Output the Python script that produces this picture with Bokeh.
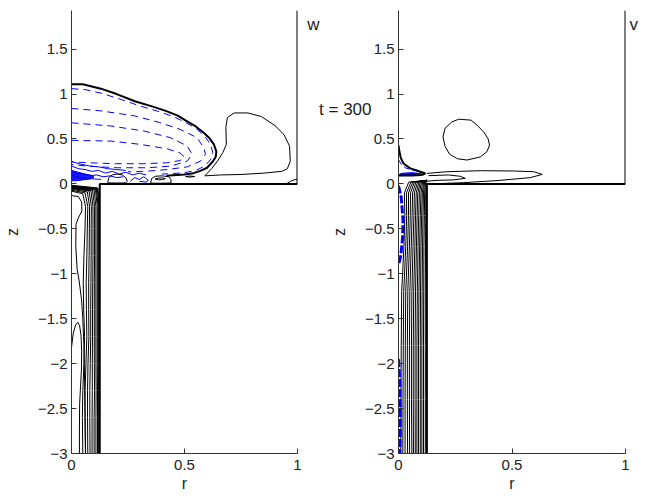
from bokeh.plotting import figure
from bokeh.layouts import row
from bokeh.models import FixedTicker, LinearAxis
from bokeh.embed import file_html
from bokeh.resources import INLINE

FONT = "Liberation Sans"

# ---------------- axes / ticks ----------------
z_ticks = [-3, -2.5, -2, -1.5, -1, -0.5, 0, 0.5, 1, 1.5]
z_tick_labels = ["\u22123", "\u22122.5", "\u22122", "\u22121.5", "\u22121", "\u22120.5", "0", "0.5", "1", "1.5"]
r_ticks = [0, 0.5, 1]
r_tick_labels = ["0", "0.5", "1"]
Z_MIN, Z_MAX = -3.0, 1.93
R_MIN, R_MAX = 0.0, 1.0

# panel titles and time stamp (text, z position)
title_w = ("w", 1.77)
title_v = ("v", 1.77)
time_text = ("t = 300", 0.83)

# domain boundary (pipe wall, floor, outer wall)
wall_r = [0.125, 0.125, 1.0, 1.0]
wall_z = [-3.0, 0.0, 0.0, 1.93]

# ---------------- panel w ----------------
w_zero_r = [0.0, 0.05, 0.13, 0.20, 0.28, 0.36, 0.42, 0.47, 0.51, 0.55, 0.585, 0.61, 0.63, 0.641, 0.638, 0.625, 0.60, 0.57, 0.54, 0.50, 0.45, 0.42]
w_zero_z = [1.11, 1.11, 1.06, 1.00, 0.92, 0.86, 0.81, 0.76, 0.70, 0.64, 0.57, 0.51, 0.44, 0.36, 0.30, 0.25, 0.18, 0.145, 0.12, 0.105, 0.097, 0.09]

w_pos_r = [0.59, 0.62, 0.645, 0.67, 0.685, 0.683, 0.69, 0.72, 0.78, 0.84, 0.90, 0.94, 0.965, 0.968, 0.955, 0.93, 0.85, 0.75, 0.66, 0.59]
w_pos_z = [0.09, 0.17, 0.25, 0.35, 0.44, 0.63, 0.74, 0.79, 0.79, 0.75, 0.65, 0.55, 0.42, 0.25, 0.17, 0.14, 0.12, 0.105, 0.10, 0.09]

w_neg_r = [
    [0.0, 0.06, 0.13, 0.22, 0.30, 0.38, 0.45, 0.50, 0.55, 0.59, 0.615, 0.625, 0.615, 0.59, 0.55, 0.50, 0.45, 0.40],
    [0.0, 0.13, 0.28, 0.39, 0.48, 0.556, 0.585, 0.593, 0.571, 0.512, 0.424, 0.335, 0.25],
    [0.0, 0.173, 0.32, 0.438, 0.512, 0.534, 0.512, 0.438, 0.335, 0.203, 0.07, 0.0],
    [0.0, 0.173, 0.306, 0.424, 0.48, 0.50, 0.48, 0.42, 0.32, 0.20, 0.08, 0.0],
]
w_neg_z = [
    [1.06, 1.05, 1.01, 0.94, 0.87, 0.81, 0.75, 0.69, 0.62, 0.53, 0.44, 0.35, 0.27, 0.20, 0.15, 0.125, 0.115, 0.11],
    [0.84, 0.813, 0.757, 0.683, 0.608, 0.515, 0.403, 0.329, 0.254, 0.19, 0.16, 0.142, 0.135],
    [0.68, 0.645, 0.589, 0.515, 0.422, 0.329, 0.254, 0.198, 0.18, 0.18, 0.198, 0.217],
    [0.485, 0.477, 0.44, 0.39, 0.345, 0.30, 0.26, 0.235, 0.225, 0.225, 0.235, 0.245],
]

# tangled small negative contours near the floor
w_tangle_r = [
    [0.0, 0.03, 0.06, 0.09, 0.12, 0.15, 0.18, 0.21, 0.24, 0.27, 0.30, 0.33],
    [0.0, 0.02, 0.05, 0.08, 0.11, 0.14, 0.17, 0.20, 0.23],
    [0.0, 0.02, 0.04, 0.07, 0.10, 0.13],
    [0.26, 0.28, 0.30, 0.32, 0.34, 0.33, 0.30],
    [0.0, 0.04, 0.08, 0.12, 0.16, 0.20, 0.24],
]
w_tangle_z = [
    [0.20, 0.17, 0.16, 0.14, 0.15, 0.12, 0.14, 0.11, 0.13, 0.10, 0.12, 0.10],
    [0.15, 0.12, 0.11, 0.09, 0.10, 0.08, 0.09, 0.07, 0.08],
    [0.10, 0.08, 0.07, 0.06, 0.055, 0.05],
    [0.03, 0.07, 0.05, 0.08, 0.04, 0.02, 0.03],
    [0.25, 0.22, 0.20, 0.19, 0.17, 0.16, 0.15],
]
w_blob_r = [0.0, 0.02, 0.05, 0.08, 0.10, 0.09, 0.06, 0.03, 0.0]
w_blob_z = [0.035, 0.035, 0.045, 0.055, 0.075, 0.095, 0.11, 0.13, 0.15]

# small closed contours on the floor
w_bump_r = [
    [0.16, 0.165, 0.18, 0.20, 0.225, 0.24, 0.247, 0.24, 0.20, 0.165, 0.16],
    [0.35, 0.355, 0.37, 0.40, 0.43, 0.44, 0.44, 0.40, 0.355, 0.35],
    [0.37, 0.385, 0.40, 0.415, 0.40, 0.385, 0.37],
    [0.505, 0.525, 0.545, 0.525, 0.505],
    [0.95, 0.97, 0.99, 1.0],
]
w_bump_z = [
    [0.015, 0.07, 0.10, 0.11, 0.10, 0.07, 0.03, 0.012, 0.01, 0.012, 0.015],
    [0.01, 0.06, 0.085, 0.09, 0.08, 0.05, 0.01, 0.008, 0.008, 0.01],
    [0.055, 0.065, 0.068, 0.058, 0.048, 0.046, 0.055],
    [0.082, 0.088, 0.082, 0.076, 0.082],
    [0.0, 0.03, 0.05, 0.05],
]

# pipe contours (panel w)
w_pipe_top_z = [-0.08, -0.07, -0.06, -0.05, -0.045, -0.04, -0.035, -0.03, -0.025, -0.02, -0.015]
w_pipe_head_r = [0.050, 0.060, 0.070, 0.078, 0.086, 0.093, 0.100, 0.106, 0.110, 0.114, 0.117]
w_pipe_z = [-0.25, -0.5, -0.8, -1.1, -1.4, -1.7, -2.0, -2.3, -2.6, -3.0]
w_pipe_r = [
    [0.062, 0.060, 0.055, 0.052, 0.054, 0.058, 0.055, 0.050, 0.048, 0.050],
    [0.072, 0.070, 0.068, 0.065, 0.066, 0.068, 0.064, 0.060, 0.060, 0.062],
    [0.080, 0.079, 0.078, 0.076, 0.076, 0.077, 0.073, 0.071, 0.071, 0.072],
    [0.088, 0.087, 0.087, 0.086, 0.085, 0.085, 0.083, 0.081, 0.081, 0.082],
    [0.095, 0.095, 0.095, 0.094, 0.093, 0.093, 0.092, 0.092, 0.091, 0.091],
    [0.102, 0.102, 0.102, 0.101, 0.101, 0.101, 0.101, 0.102, 0.100, 0.100],
    [0.108, 0.108, 0.108, 0.108, 0.108, 0.108, 0.108, 0.109, 0.108, 0.108],
    [0.114, 0.114, 0.114, 0.114, 0.114, 0.114, 0.114, 0.115, 0.115, 0.115],
    [0.118, 0.118, 0.118, 0.118, 0.118, 0.118, 0.118, 0.118, 0.118, 0.118],
    [0.121, 0.121, 0.121, 0.121, 0.121, 0.121, 0.121, 0.121, 0.121, 0.121],
    [0.123, 0.123, 0.123, 0.123, 0.123, 0.123, 0.123, 0.123, 0.123, 0.123],
]
w_core_r = [
    [0.0, 0.03, 0.045, 0.046, 0.03, 0.02, 0.019, 0.025, 0.034, 0.045, 0.05, 0.055, 0.058, 0.06, 0.062],
    [0.0, 0.008, 0.018, 0.028, 0.036, 0.042, 0.045, 0.044, 0.04, 0.036, 0.035, 0.035],
]
w_core_z = [
    [-0.13, -0.14, -0.20, -0.30, -0.38, -0.45, -0.70, -0.95, -1.08, -1.30, -1.5, -1.8, -2.2, -2.6, -3.0],
    [-1.82, -1.66, -1.57, -1.54, -1.58, -1.68, -1.85, -2.06, -2.25, -2.45, -2.75, -3.0],
]

# ---------------- panel v ----------------
v_zero_r = [0.0, 0.004, 0.01, 0.022, 0.037, 0.052, 0.081, 0.096, 0.11, 0.118, 0.11, 0.096, 0.06, 0.02, 0.0]
v_zero_z = [0.43, 0.36, 0.29, 0.228, 0.20, 0.173, 0.15, 0.136, 0.125, 0.117, 0.105, 0.10, 0.095, 0.095, 0.095]

v_loop_r = [0.265, 0.32, 0.346, 0.375, 0.395, 0.401, 0.39, 0.36, 0.302, 0.26, 0.225, 0.205, 0.196, 0.205, 0.235, 0.265]
v_loop_z = [0.72, 0.71, 0.653, 0.58, 0.50, 0.432, 0.36, 0.30, 0.266, 0.28, 0.33, 0.42, 0.524, 0.62, 0.69, 0.72]

v_lobe_r = [
    [0.125, 0.213, 0.36, 0.507, 0.596, 0.633, 0.58, 0.434, 0.287, 0.184, 0.13],
    [0.132, 0.22, 0.272, 0.294, 0.243, 0.17, 0.125],
]
v_lobe_z = [
    [0.117, 0.136, 0.147, 0.144, 0.136, 0.106, 0.07, 0.037, 0.014, 0.004, 0.0],
    [0.092, 0.10, 0.085, 0.062, 0.045, 0.04, 0.03],
]

v_neg_r = [
    [0.0, 0.012, 0.02, 0.018, 0.01, 0.0],
    [0.0, 0.006, 0.008, 0.008, 0.006],
    [0.0, 0.012, 0.03, 0.06, 0.09],
]
v_neg_z = [
    [-0.02, -0.15, -0.40, -0.60, -0.80, -0.90],
    [-1.95, -2.2, -2.5, -2.8, -3.0],
    [0.27, 0.22, 0.18, 0.155, 0.14],
]
v_blob_r = [0.005, 0.04, 0.08, 0.10, 0.06, 0.02, 0.005]
v_blob_z = [0.10, 0.10, 0.105, 0.115, 0.125, 0.12, 0.11]

v_pipe_z = [-3.0, -2.4, -1.8, -1.2, -0.7, -0.35, -0.1]
v_pipe_r = [
    [0.010, 0.011, 0.012, 0.014, 0.024, 0.028, 0.026],
    [0.019, 0.020, 0.021, 0.023, 0.032, 0.036, 0.035],
    [0.029, 0.029, 0.030, 0.032, 0.040, 0.044, 0.044],
    [0.040, 0.039, 0.039, 0.041, 0.048, 0.052, 0.053],
    [0.049, 0.048, 0.048, 0.050, 0.056, 0.060, 0.062],
    [0.059, 0.057, 0.057, 0.059, 0.064, 0.068, 0.070],
    [0.066, 0.065, 0.065, 0.067, 0.072, 0.075, 0.078],
    [0.074, 0.073, 0.073, 0.075, 0.079, 0.082, 0.085],
    [0.081, 0.081, 0.081, 0.083, 0.086, 0.089, 0.092],
    [0.088, 0.088, 0.088, 0.090, 0.093, 0.096, 0.099],
    [0.096, 0.096, 0.096, 0.097, 0.099, 0.102, 0.105],
    [0.103, 0.103, 0.103, 0.104, 0.106, 0.108, 0.110],
    [0.110, 0.110, 0.110, 0.111, 0.112, 0.114, 0.115],
    [0.118, 0.118, 0.118, 0.118, 0.119, 0.120, 0.120],
]
v_pipe_top_r = [0.045, 0.055, 0.063, 0.070, 0.077, 0.084, 0.090, 0.096, 0.101, 0.106, 0.111, 0.115, 0.119, 0.122]
v_pipe_top_z = 0.02
v_corner = (0.125, 0.04)

BLUE = "#0000ff"


def make_fig(border_left, frame_w, border_right):
    p = figure(frame_width=frame_w, frame_height=443,
               min_border_left=border_left, min_border_right=border_right,
               min_border_top=10, min_border_bottom=46,
               x_range=(R_MIN, R_MAX), y_range=(Z_MIN, Z_MAX),
               output_backend="svg", toolbar_location=None,
               background_fill_color="white", border_fill_color="white")
    p.outline_line_color = None
    p.grid.visible = False
    p.xaxis.ticker = FixedTicker(ticks=r_ticks)
    p.yaxis.ticker = FixedTicker(ticks=z_ticks)
    p.xaxis.major_label_overrides = {t: s for t, s in zip(r_ticks, r_tick_labels)}
    p.yaxis.major_label_overrides = {t: s for t, s in zip(z_ticks, z_tick_labels)}
    p.xaxis.axis_label = "r"
    p.yaxis.axis_label = "z"
    for ax in (p.xaxis, p.yaxis):
        ax.major_tick_in = 5
        ax.major_tick_out = 0
        ax.minor_tick_line_color = None
        ax.axis_line_color = "#333333"
        ax.major_tick_line_color = "#333333"
        ax.major_label_text_font = FONT
        ax.major_label_text_font_size = "15px"
        ax.major_label_text_color = "#222222"
        ax.axis_label_text_font = FONT
        ax.axis_label_text_font_size = "16px"
        ax.axis_label_text_font_style = "normal"
        ax.axis_label_text_color = "#222222"
    p.yaxis.major_label_standoff = 4
    p.yaxis.axis_label_standoff = 14
    p.xaxis.major_label_standoff = 6
    p.xaxis.axis_label_standoff = 2
    p.line(wall_r, wall_z, line_color="black", line_width=2)
    return p


def text_axis(text, z, standoff):
    """A bare axis (no line, no ticks) whose single tick label carries a text."""
    ax = LinearAxis(ticker=FixedTicker(ticks=[z]),
                    major_label_overrides={z: text},
                    axis_line_color=None, major_tick_line_color=None,
                    minor_tick_line_color=None,
                    major_tick_in=0, major_tick_out=0,
                    major_label_standoff=standoff,
                    major_label_text_font=FONT,
                    major_label_text_font_size="17px",
                    major_label_text_color="#222222")
    return ax


# ---------- left: w ----------
pw = make_fig(71, 226, 6)
pipe_xs = []
pipe_ys = []
for tz, hr, rr in zip(w_pipe_top_z, w_pipe_head_r, w_pipe_r):
    pipe_xs.append([0.0, hr] + rr)
    pipe_ys.append([tz, tz - 0.03] + w_pipe_z)
pw.multi_line(pipe_xs, pipe_ys, line_color="black", line_width=1)
pw.multi_line(w_core_r, w_core_z, line_color="black", line_width=1)
pw.patch(w_blob_r, w_blob_z, fill_color=BLUE, line_color=BLUE, fill_alpha=0.9)
pw.multi_line(w_tangle_r, w_tangle_z, line_color=BLUE, line_width=1)
pw.multi_line(w_neg_r, w_neg_z, line_color=BLUE, line_width=1, line_dash="7 5")
pw.multi_line(w_bump_r, w_bump_z, line_color="black", line_width=1)
pw.line(w_pos_r, w_pos_z, line_color="black", line_width=1)
pw.line(w_zero_r, w_zero_z, line_color="black", line_width=2)

# ---------- right: v ----------
pv = make_fig(95, 227, 22)
vx = []
vy = []
for rr, tr in zip(v_pipe_r, v_pipe_top_r):
    vx.append(rr + [tr, v_corner[0]])
    vy.append(v_pipe_z + [v_pipe_top_z, v_corner[1]])
pv.multi_line(vx, vy, line_color="black", line_width=1)
pv.multi_line(v_neg_r[:2], v_neg_z[:2], line_color=BLUE, line_width=3, line_dash="8 2")
pv.line(v_neg_r[2], v_neg_z[2], line_color=BLUE, line_width=1, line_dash="6 3")
pv.patch(v_blob_r, v_blob_z, fill_color=BLUE, line_color=BLUE)
pv.multi_line(v_lobe_r, v_lobe_z, line_color="black", line_width=1)
pv.line(v_loop_r, v_loop_z, line_color="black", line_width=1)
pv.line(v_zero_r, v_zero_z, line_color="black", line_width=2)

# texts placed in the side panels via bare axes
pv.add_layout(text_axis(time_text[0], time_text[1], -44), "left")
pv.add_layout(text_axis(title_w[0], title_w[1], -3), "left")
pv.add_layout(text_axis(title_v[0], title_v[1], 4), "right")

layout = row(pw, pv)
open("out.html", "w").write(file_html(layout, INLINE))
